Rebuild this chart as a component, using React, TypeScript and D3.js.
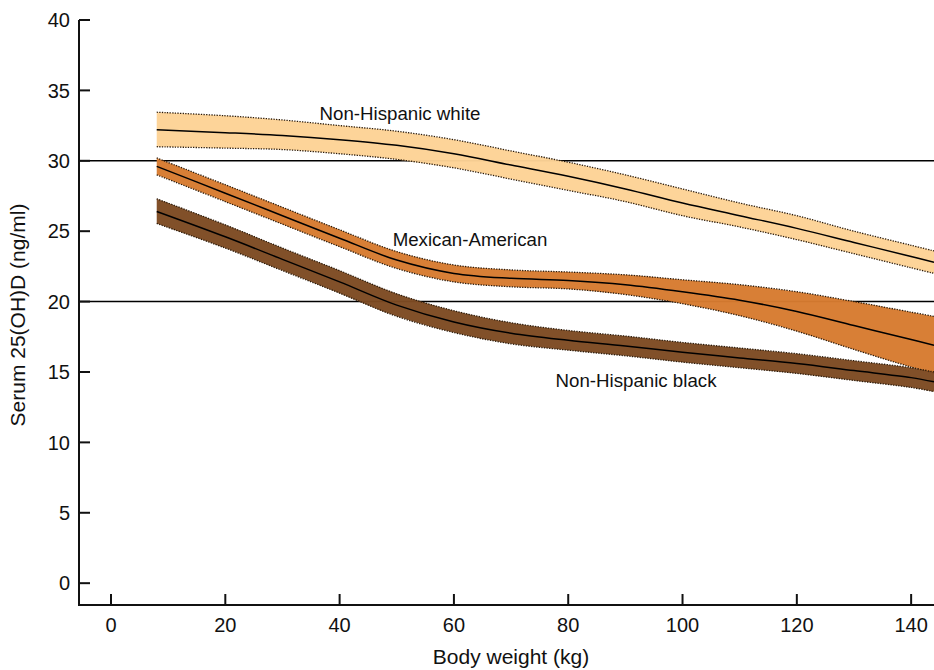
import React from 'react';
import * as d3 from 'd3';

// body weight (kg) sample points
const weights = [8, 20, 30, 40, 50, 60, 70, 80, 90, 100, 110, 120, 130, 140, 144];

// Non-Hispanic white
const whiteMean = [32.2, 32.0, 31.8, 31.5, 31.1, 30.5, 29.7, 28.9, 28.0, 27.0, 26.1, 25.2, 24.2, 23.2, 22.8];
const whiteLow = [31.0, 30.9, 30.8, 30.5, 30.1, 29.5, 28.7, 27.9, 27.1, 26.1, 25.3, 24.4, 23.4, 22.4, 22.0];
const whiteHigh = [33.45, 33.2, 32.9, 32.5, 32.1, 31.5, 30.7, 29.9, 29.0, 28.0, 27.0, 26.1, 25.0, 24.0, 23.6];

// Mexican-American
const mexMean = [29.6, 27.7, 26.1, 24.5, 22.95, 22.0, 21.65, 21.5, 21.2, 20.7, 20.1, 19.3, 18.3, 17.3, 16.9];
const mexLow = [29.0, 27.1, 25.5, 23.9, 22.35, 21.4, 21.05, 20.9, 20.5, 19.85, 19.0, 17.9, 16.6, 15.35, 14.9];
const mexHigh = [30.2, 28.3, 26.7, 25.1, 23.55, 22.6, 22.25, 22.1, 21.9, 21.55, 21.2, 20.7, 20.0, 19.25, 18.95];

// Non-Hispanic black
const blackMean = [26.4, 24.6, 23.0, 21.4, 19.75, 18.55, 17.75, 17.25, 16.85, 16.4, 16.0, 15.6, 15.1, 14.6, 14.3];
const blackLow = [25.55, 23.8, 22.2, 20.6, 18.95, 17.8, 17.0, 16.55, 16.15, 15.7, 15.3, 14.9, 14.4, 13.9, 13.6];
const blackHigh = [27.3, 25.45, 23.8, 22.2, 20.55, 19.35, 18.5, 17.95, 17.55, 17.1, 16.7, 16.3, 15.8, 15.3, 15.0];

const xTicks = [0, 20, 40, 60, 80, 100, 120, 140];
const yTicks = [0, 5, 10, 15, 20, 25, 30, 35, 40];
const refLines = [20, 30];

const series = [
  { name: 'Non-Hispanic white', mean: whiteMean, low: whiteLow, high: whiteHigh, fill: '#fdd396', label: [400, 32.9] },
  { name: 'Mexican-American', mean: mexMean, low: mexLow, high: mexHigh, fill: '#d77b30', label: [470, 23.95] },
  { name: 'Non-Hispanic black', mean: blackMean, low: blackLow, high: blackHigh, fill: '#7d4a22', label: [636, 13.9] },
];

const W = 934;
const H = 670;
const FONT = 'Liberation Sans, Arial, Helvetica, sans-serif';

export default function App() {
  const x = d3.scaleLinear().domain([-5.6, 144]).range([79, 934]);
  const y = d3.scaleLinear().domain([-1.55, 40]).range([605, 20]);
  const x0 = x.range()[0];
  const yBottom = y.range()[0];
  const curve = d3.curveCatmullRom.alpha(0.5);

  const line = (vals: number[]) =>
    d3
      .line<number>()
      .curve(curve)
      .x((_, i) => x(weights[i]))
      .y((d) => y(d))(vals) || '';

  const area = (low: number[], high: number[]) =>
    d3
      .area<number>()
      .curve(curve)
      .x((_, i) => x(weights[i]))
      .y0((_, i) => y(low[i]))
      .y1((_, i) => y(high[i]))(weights) || '';

  return (
    <svg width={W} height={H} style={{ position: 'absolute', left: 0, top: 0, background: '#fff' }} fontFamily={FONT}>
      <defs>
        <clipPath id="plot">
          <rect x={x0} y={0} width={W - x0} height={yBottom} />
        </clipPath>
      </defs>

      {/* reference lines */}
      {refLines.map((v) => (
        <line key={v} x1={x0} x2={W} y1={y(v)} y2={y(v)} stroke="#000" strokeWidth={1.5} />
      ))}

      <g clipPath="url(#plot)">
        {series.map((s) => (
          <g key={s.name}>
            <path d={area(s.low, s.high)} fill={s.fill} fillOpacity={0.97} />
            <path d={line(s.low)} fill="none" stroke="#2a1a0a" strokeWidth={1.3} strokeDasharray="1.3 1.3" />
            <path d={line(s.high)} fill="none" stroke="#2a1a0a" strokeWidth={1.3} strokeDasharray="1.3 1.3" />
            <path d={line(s.mean)} fill="none" stroke="#000" strokeWidth={1.5} />
          </g>
        ))}
      </g>

      {series.map((s) => (
        <text key={s.name} x={s.label[0]} y={y(s.label[1])} textAnchor="middle" fontSize={18.7} fill="#111">
          {s.name}
        </text>
      ))}

      {/* axes */}
      <line x1={x0} x2={x0} y1={y(40)} y2={yBottom} stroke="#111" strokeWidth={2} />
      <line x1={x0 - 1} x2={W} y1={yBottom} y2={yBottom} stroke="#111" strokeWidth={2} />
      {yTicks.map((t) => (
        <g key={t}>
          <line x1={x0} x2={x0 + 11} y1={y(t)} y2={y(t)} stroke="#111" strokeWidth={2} />
          <text x={x0 - 9} y={y(t)} dy="0.36em" textAnchor="end" fontSize={20} fill="#111">
            {t}
          </text>
        </g>
      ))}
      {xTicks.map((t) => (
        <g key={t}>
          <line x1={x(t)} x2={x(t)} y1={yBottom} y2={yBottom - 11} stroke="#111" strokeWidth={2} />
          <text x={x(t)} y={yBottom + 27} textAnchor="middle" fontSize={20} fill="#111">
            {t}
          </text>
        </g>
      ))}

      <text x={511} y={664} textAnchor="middle" fontSize={21} fill="#111">
        Body weight (kg)
      </text>
      <text transform={`translate(25, 315) rotate(-90)`} textAnchor="middle" fontSize={21} fill="#111">
        Serum 25(OH)D (ng/ml)
      </text>
    </svg>
  );
}
